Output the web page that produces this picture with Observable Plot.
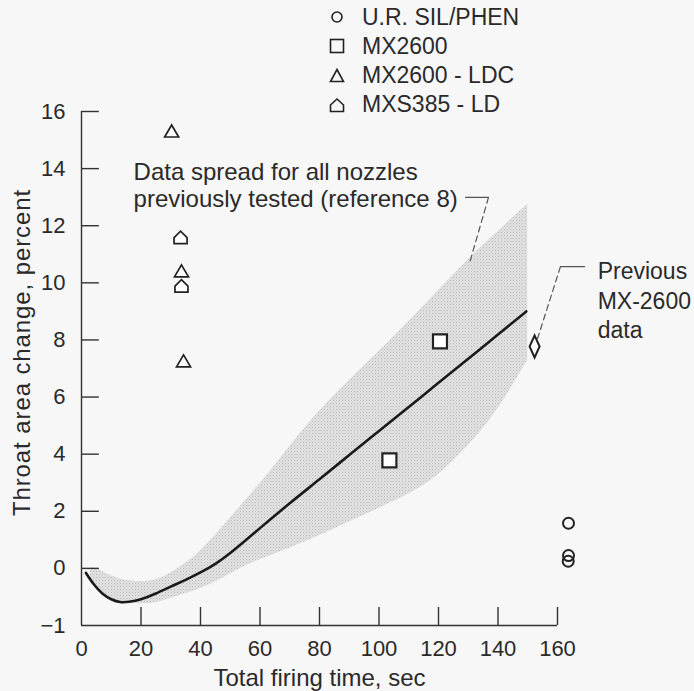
<!DOCTYPE html>
<html><head><meta charset="utf-8">
<script src="https://cdn.jsdelivr.net/npm/d3@7"></script>
<script src="https://cdn.jsdelivr.net/npm/@observablehq/plot@0.6"></script>
<style>
body{margin:0;background:#f7f7f7;font-family:"Liberation Sans",Arial,Helvetica,sans-serif;color:#2a2a2a;}
#wrap{width:694px;height:691px;position:relative;overflow:hidden;}
#legend{position:relative;height:100px;z-index:2;}
.row{position:absolute;left:327px;height:29px;display:flex;align-items:center;font-size:23px;white-space:nowrap;}
.row svg{width:20px;height:20px;margin-right:15px;overflow:visible;}
#chart{position:relative;z-index:1;}
</style></head>
<body><div id="wrap"><div id="legend"></div><div id="chart"></div></div>
<script>
// ---- data (y read on the drawn linear grid; the bottom gridline is labelled "-1" in the original) ----
const seriesNames = ["U.R. SIL/PHEN", "MX2600", "MX2600 - LDC", "MXS385 - LD"];
const silphenX = [163.7, 163.7, 163.6];
const silphenY = [1.58, 0.45, 0.25];
const mx2600X = [103.5, 120.5];
const mx2600Y = [3.78, 7.95];
const ldcX = [30.3, 33.6, 34.3];
const ldcY = [15.3, 10.4, 7.25];
const ldX = [33.3, 33.6];
const ldY = [11.6, 9.9];
const prevX = [152.3];
const prevY = [7.77];

const curveX = [1.5, 4, 7, 10, 13, 16, 20, 25, 30, 35, 40, 45, 50, 55, 60, 70, 80, 90, 100, 110, 120, 130, 140, 149.5];
const curveY = [-0.16, -0.54, -0.88, -1.08, -1.18, -1.17, -1.08, -0.88, -0.64, -0.4, -0.14, 0.16, 0.54, 0.97, 1.41, 2.28, 3.12, 3.97, 4.81, 5.65, 6.5, 7.34, 8.19, 9.0];

const bandX  = [3, 5, 8, 11, 14, 17, 20, 25, 30, 35, 40, 46, 52, 57, 65, 80, 100, 117, 130, 140, 150];
const bandLo = [-0.4, -0.66, -0.96, -1.14, -1.2, -1.22, -1.24, -1.2, -1.05, -0.88, -0.7, -0.42, -0.08, 0.17, 0.5, 1.15, 2.1, 3.05, 4.3, 5.6, 7.3];
const bandHi = [0.02, 0, -0.16, -0.3, -0.4, -0.44, -0.46, -0.4, -0.16, 0.18, 0.62, 1.28, 2.0, 2.6, 3.6, 5.5, 7.6, 9.4, 10.8, 11.8, 12.75];

const xTicks = [0, 20, 40, 60, 80, 100, 120, 140, 160];
const yTicks = [-2, 0, 2, 4, 6, 8, 10, 12, 14, 16];
const yTickLabels = ["\u22121", "0", "2", "4", "6", "8", "10", "12", "14", "16"];

const note1 = {x: 17.5, y: 13.43, text: "Data spread for all nozzles\npreviously tested (reference 8)"};
const note2 = {x: 173.5, y: 9.42, text: "Previous\nMX-2600\ndata"};
const lead1Solid = [[129.1, 12.99], [136.8, 12.99]];
const lead1Dash  = [[136.8, 12.99], [130.4, 10.68]];
const lead2Solid = [[169.1, 10.57], [161.0, 10.57]];
const lead2Dash  = [[161.0, 10.57], [153.3, 8.05]];

const xLabel = "Total firing time, sec";
const yLabel = "Throat area change, percent";

// ---- build ----
const pts = (xs, ys) => xs.map((x, i) => ({x, y: ys[i]}));
const curve = pts(curveX, curveY);
const band = bandX.map((x, i) => ({x, lo: bandLo[i], hi: bandHi[i]}));
const seg = arr => arr.map(([x, y]) => ({x, y}));

const ink = "#222";
const tri = {draw(c){c.moveTo(0,-6.5);c.lineTo(7,5.5);c.lineTo(-7,5.5);c.closePath();}};
const house = {draw(c){c.moveTo(-6.5,6.5);c.lineTo(6.5,6.5);c.lineTo(6.5,0.5);c.lineTo(0,-6);c.lineTo(-6.5,0.5);c.closePath();}};
const diamond = {draw(c){c.moveTo(0,-11);c.lineTo(5,0);c.lineTo(0,11);c.lineTo(-5,0);c.closePath();}};
const sq = {draw(c){c.moveTo(-7,-7);c.lineTo(7,-7);c.lineTo(7,7);c.lineTo(-7,7);c.closePath();}};
const circ = {draw(c){c.moveTo(5.5,0);c.arc(0,0,5.5,0,2*Math.PI);}};

// legend
const legendSyms = [
  '<circle cx="10" cy="10" r="5" fill="none" stroke="#222" stroke-width="1.6"/>',
  '<rect x="3.5" y="3.5" width="13" height="13" fill="none" stroke="#222" stroke-width="1.6"/>',
  '<path d="M10,3.5L16.5,15.5L3.5,15.5Z" fill="none" stroke="#222" stroke-width="1.6"/>',
  '<path d="M3.5,16.5L16.5,16.5L16.5,10L10,4L3.5,10Z" fill="none" stroke="#222" stroke-width="1.6"/>'
];
const leg = document.getElementById("legend");
seriesNames.forEach((name, i) => {
  const row = document.createElement("div");
  row.className = "row";
  row.style.top = (2.5 + i * 29.3) + "px";
  row.innerHTML = `<svg viewBox="0 0 20 20">${legendSyms[i]}</svg><span>${name}</span>`;
  leg.appendChild(row);
});

const lineMark = (arr, opts) => Plot.line(seg(arr), {x: "x", y: "y", stroke: "#555", strokeWidth: 1.2, ...opts});

const chart = Plot.plot({
  width: 694, height: 591,
  marginLeft: 81, marginRight: 137, marginTop: 11, marginBottom: 66,
  style: {background: "transparent", overflow: "visible", fontFamily: '"Liberation Sans", Arial, Helvetica, sans-serif', fontSize: "22px", color: "#2a2a2a"},
  x: {domain: [0, 160]},
  y: {domain: [-2, 16]},
  marks: [
    Plot.areaY(band, {x: "x", y1: "lo", y2: "hi", fill: "url(#stipple)", curve: "natural"}),
    Plot.line(curve, {x: "x", y: "y", stroke: "#1a1a1a", strokeWidth: 2.6, curve: "natural"}),
    lineMark(lead1Solid, {}),
    lineMark(lead1Dash, {strokeDasharray: "6,4"}),
    lineMark(lead2Solid, {}),
    lineMark(lead2Dash, {strokeDasharray: "6,4"}),
    Plot.dot(pts(silphenX, silphenY), {x: "x", y: "y", symbol: circ, r: 5, stroke: ink, strokeWidth: 2, fill: "none"}),
    Plot.dot(pts(mx2600X, mx2600Y), {x: "x", y: "y", symbol: sq, r: 5, stroke: ink, strokeWidth: 2.2, fill: "white"}),
    Plot.dot(pts(ldcX, ldcY), {x: "x", y: "y", symbol: tri, r: 5, stroke: ink, strokeWidth: 1.7, fill: "white"}),
    Plot.dot(pts(ldX, ldY), {x: "x", y: "y", symbol: house, r: 5, stroke: ink, strokeWidth: 1.7, fill: "white"}),
    Plot.dot(pts(prevX, prevY), {x: "x", y: "y", symbol: diamond, r: 5, stroke: ink, strokeWidth: 2, fill: "white"}),
    Plot.text([note1], {x: "x", y: "y", text: "text", textAnchor: "start", lineHeight: 1.13, fontSize: 24, fill: "#2a2a2a"}),
    Plot.text([note2], {x: "x", y: "y", text: "text", textAnchor: "start", lineHeight: 1.28, fontSize: 23, fill: "#2a2a2a"}),
    // frame + inward ticks
    Plot.ruleX([0], {y1: -2, y2: 16, stroke: "#333", strokeWidth: 1.4}),
    Plot.ruleY([-2], {x1: 0, x2: 160, stroke: "#333", strokeWidth: 1.4}),
    Plot.ruleY(yTicks.filter(d => d > -2), {x1: 0, x2: 6, stroke: "#333", strokeWidth: 1.4}),
    Plot.ruleX(xTicks.filter(d => d > 0), {y1: -2, y2: -1.37, stroke: "#333", strokeWidth: 1.4}),
    Plot.axisY({ticks: yTicks, tickSize: 0, tickPadding: 16, tickFormat: d => yTickLabels[yTicks.indexOf(d)], label: null, fontSize: 22}),
    Plot.axisX({ticks: xTicks, tickSize: 0, tickPadding: 15, label: null, fontSize: 22}),
    Plot.text([xLabel], {frameAnchor: "bottom", textAnchor: "middle", lineAnchor: "middle", dy: 53, fontSize: 24, fill: "#2a2a2a"}),
    Plot.text([yLabel], {frameAnchor: "left", textAnchor: "middle", lineAnchor: "middle", rotate: -90, dx: -59, dy: -16, fontSize: 24, fill: "#2a2a2a"})
  ]
});

// stippled fill pattern for the data-spread band
const ns = "http://www.w3.org/2000/svg";
const defs = document.createElementNS(ns, "defs");
defs.innerHTML = '<pattern id="stipple" width="3" height="3" patternUnits="userSpaceOnUse">' +
  '<rect width="3" height="3" fill="#e2e2e2"/><rect x="0" y="0" width="1" height="1" fill="#b9b9b9"/>' +
  '<rect x="1.5" y="1.5" width="1" height="1" fill="#c6c6c6"/></pattern>';
chart.insertBefore(defs, chart.firstChild);
chart.querySelectorAll("text").forEach(t => { if (t.textContent === yLabel) t.setAttribute("letter-spacing", "0.9"); });

document.getElementById("chart").appendChild(chart);
</script>
</body></html>
